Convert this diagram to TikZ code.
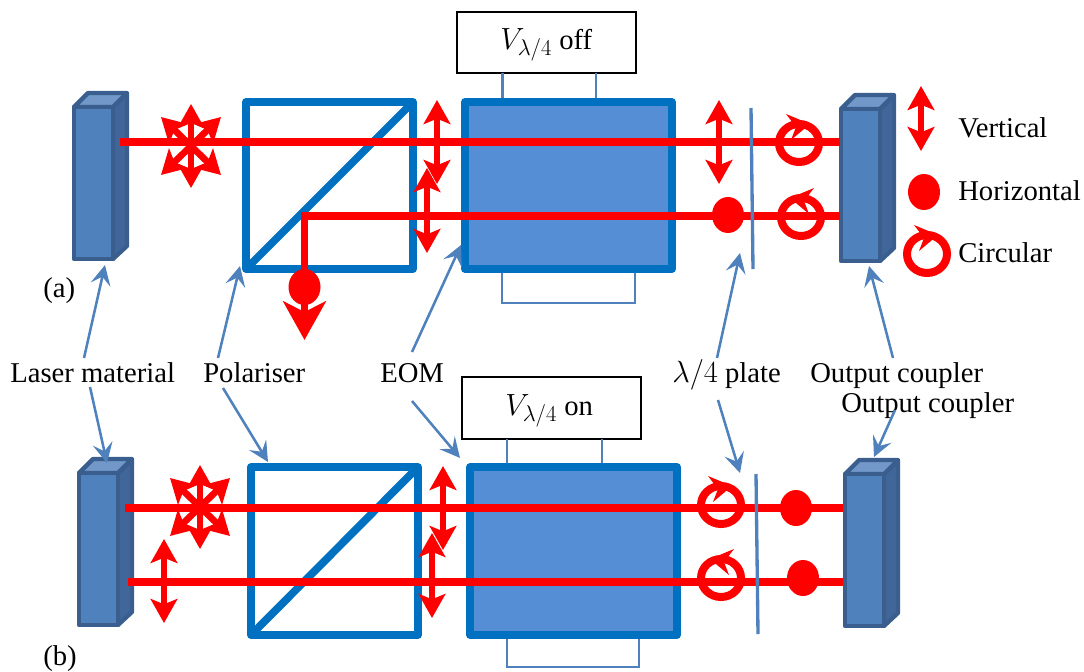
\documentclass[tikz,border=0pt]{standalone}
\usepackage{fix-cm}
\usepackage{fontspec}
\setmainfont{Liberation Serif}
\usepackage{xcolor}
\usetikzlibrary{arrows.meta}
\DeclareMathSizes{21.5}{23}{17}{13}

\definecolor{cubeblue}{HTML}{0070C0}
\definecolor{eomblue}{HTML}{558ED5}
\definecolor{thinblue}{HTML}{4F81BD}
\definecolor{crystaledge}{HTML}{3A5F8E}
\definecolor{crystalside}{HTML}{41669A}
\definecolor{crystaltop}{HTML}{7297C9}

\tikzset{
  txtlabel/.style={anchor=north west,inner sep=0.75pt,align=left,font=\fontsize{21.5}{24}\selectfont},
  beam/.style={draw=red,line width=5.6pt},
  cube/.style={draw=cubeblue,line width=5.8pt,line join=round},
  plate/.style={draw=thinblue,line width=2.5pt},
  wire/.style={draw=thinblue,line width=1.8pt},
  callout/.style={draw=thinblue,line width=1.9pt,-{Stealth[length=15pt,width=15pt,inset=6pt]}},
  linpol/.style={draw=red,line width=5pt,{Stealth[length=18pt,width=20pt,inset=4pt]}-{Stealth[length=18pt,width=20pt,inset=4pt]}},
  outpol/.style={draw=red,line width=5pt,-{Stealth[length=29pt,width=32pt,inset=8pt]}},
  crystalface/.style={draw=crystaledge,line width=3.2pt,line join=round}
}

% laser material or output coupler, top left corner of the front at #1,#2
\newcommand{\crystal}[2]{
  \draw[crystalface,fill=crystalside] (#1+39,#2) -- (#1+53,#2-14) -- (#1+53,#2+139) -- (#1+39,#2+152) -- cycle;
  \draw[crystalface,fill=crystaltop] (#1,#2) -- (#1+14,#2-14) -- (#1+53,#2-14) -- (#1+39,#2) -- cycle;
  \draw[crystalface,fill=thinblue] (#1,#2) rectangle (#1+39,#2+152);
}
% polarisation signs
\newcommand{\dotpol}[2]{\fill[red] (#1,#2) circle [x radius=16,y radius=18];}
\newcommand{\circpol}[3]{
  \begin{scope}[shift={(#2,#3)},xscale=#1]
    \draw[red,line width=6pt] (0,0) circle [x radius=20,y radius=19];
    \fill[red] (-13,-29) -- (11,-19) -- (-8,-3) -- (-3,-16) -- cycle;
  \end{scope}
}
\newcommand{\starpol}[2]{
  \draw[linpol] (#1,#2-42) -- (#1,#2+42);
  \draw[linpol] (#1-30,#2-29) -- (#1+30,#2+29);
  \draw[linpol] (#1+30,#2-29) -- (#1-30,#2+29);
}

\begin{document}
\begin{tikzpicture}[x=0.75pt,y=0.75pt,yscale=-1,xscale=1]
\useasboundingbox (0,0) rectangle (1084,671);

% (a) voltage off
\draw [black,line width=1pt] (457,12) rectangle (636,73);
\draw [wire] (502.5,73) -- (502.5,100);
\draw [wire] (596,73) -- (596,100);
\draw [wire] (502,270) -- (502,303) -- (635,303) -- (635,270);
\crystal{74}{107}
\crystal{841}{109}
\draw [cube] (246,102) rectangle (413,269);
\draw [cube] (246,269) -- (413,102);
\draw [cube,fill=eomblue] (465,102) rectangle (672,269);

\coordinate (topAstart) at (120,142);
\coordinate (topAend) at (840,142);
\coordinate (lowAend) at (840,216);
\coordinate (lowAcorner) at (304.5,216);
\coordinate (lowAdot) at (304.5,287);
\coordinate (lowAtip) at (304.5,340);
\draw [beam] (topAstart) -- (topAend);
\draw [beam,line join=miter] (lowAend) -- (lowAcorner) -- (lowAdot);
\dotpol{304.5}{287}
\draw [outpol] (lowAdot) -- (lowAtip);
\starpol{191}{146}
\draw [linpol] (437,100) -- (437,184);
\draw [linpol] (427,168) -- (427,253);
\draw [linpol] (719,100) -- (719,184);
\dotpol{728}{215}
\circpol{1}{799}{143}
\circpol{-1}{801}{217}
\draw [plate] (751,108) -- (753,269);

% (b) voltage on
\draw [black,line width=1pt] (462,377) rectangle (641,439);
\draw [wire] (507,439) -- (507,465);
\draw [wire] (602,439) -- (602,465);
\draw [wire] (507,636) -- (507,667) -- (639,667) -- (639,636);
\crystal{79}{473}
\crystal{845}{474}
\draw [cube] (251,467) rectangle (418,635);
\draw [cube] (251,635) -- (418,467);
\draw [cube,fill=eomblue] (470,467) rectangle (677,635);

\coordinate (topBstart) at (125,508);
\coordinate (topBend) at (843,508);
\coordinate (lowBstart) at (128,582);
\coordinate (lowBend) at (843,582);
\draw [beam] (topBstart) -- (topBend);
\draw [beam] (lowBstart) -- (lowBend);
\starpol{200}{507}
\draw [linpol] (164,539) -- (164,623);
\draw [linpol] (443,466) -- (443,550);
\draw [linpol] (432,533) -- (432,618);
\circpol{1}{721}{505}
\circpol{-1}{721}{578}
\dotpol{796}{508}
\dotpol{803}{578}
\draw [plate] (756,474) -- (758,634);

% legend
\draw [linpol] (921,86) -- (921,151);
\dotpol{924}{192}
\circpol{1}{927}{254}

% texts
\draw (499,27) node (voltoff) [txtlabel] {$V_{\lambda/4}$ off};
\draw (504,393) node (volton) [txtlabel] {$V_{\lambda/4}$ on};
\draw (957,116) node (verttxt) [txtlabel] {Vertical};
\draw (957,179) node (horitxt) [txtlabel] {Horizontal};
\draw (957,241) node (circtxt) [txtlabel] {Circular};
\draw (42,276) node (atxt) [txtlabel] {(a)};
\draw (42,644) node (btxt) [txtlabel] {(b)};
\draw (9,361) node (lasertxt) [txtlabel] {Laser material};
\draw (202,361) node (poltxt) [txtlabel] {Polariser};
\draw (379,362) node (eomtxt) [txtlabel] {EOM};
\draw (671,358) node (platetxt) [txtlabel] {$\lambda/4$ plate};
\draw (809,361) node (outtxtA) [txtlabel] {Output coupler};
\draw (840,391) node (outtxtB) [txtlabel] {Output coupler};

% pointers
\coordinate (laserup) at (84,358); \coordinate (laserupend) at (105,265);
\coordinate (laserdown) at (90,387); \coordinate (laserdownend) at (107,463);
\coordinate (polup) at (218,358); \coordinate (polupend) at (240,266);
\coordinate (poldown) at (223,388); \coordinate (poldownend) at (268,462);
\coordinate (eomup) at (412,352); \coordinate (eomupend) at (461,245);
\coordinate (eomdown) at (412,401); \coordinate (eomdownend) at (460,458);
\coordinate (plateup) at (717,358); \coordinate (plateupend) at (740,253);
\coordinate (platedown) at (718,400); \coordinate (platedownend) at (740,473);
\coordinate (outup) at (893,358); \coordinate (outupend) at (869,266);
\coordinate (outdown) at (895,410); \coordinate (outdownend) at (874,457);
\draw [callout] (laserup) -- (laserupend);
\draw [callout] (laserdown) -- (laserdownend);
\draw [callout] (polup) -- (polupend);
\draw [callout] (poldown) -- (poldownend);
\draw [callout] (eomup) -- (eomupend);
\draw [callout] (eomdown) -- (eomdownend);
\draw [callout] (plateup) -- (plateupend);
\draw [callout] (platedown) -- (platedownend);
\draw [callout] (outup) -- (outupend);
\draw [callout] (outdown) -- (outdownend);

\end{tikzpicture}
\end{document}
